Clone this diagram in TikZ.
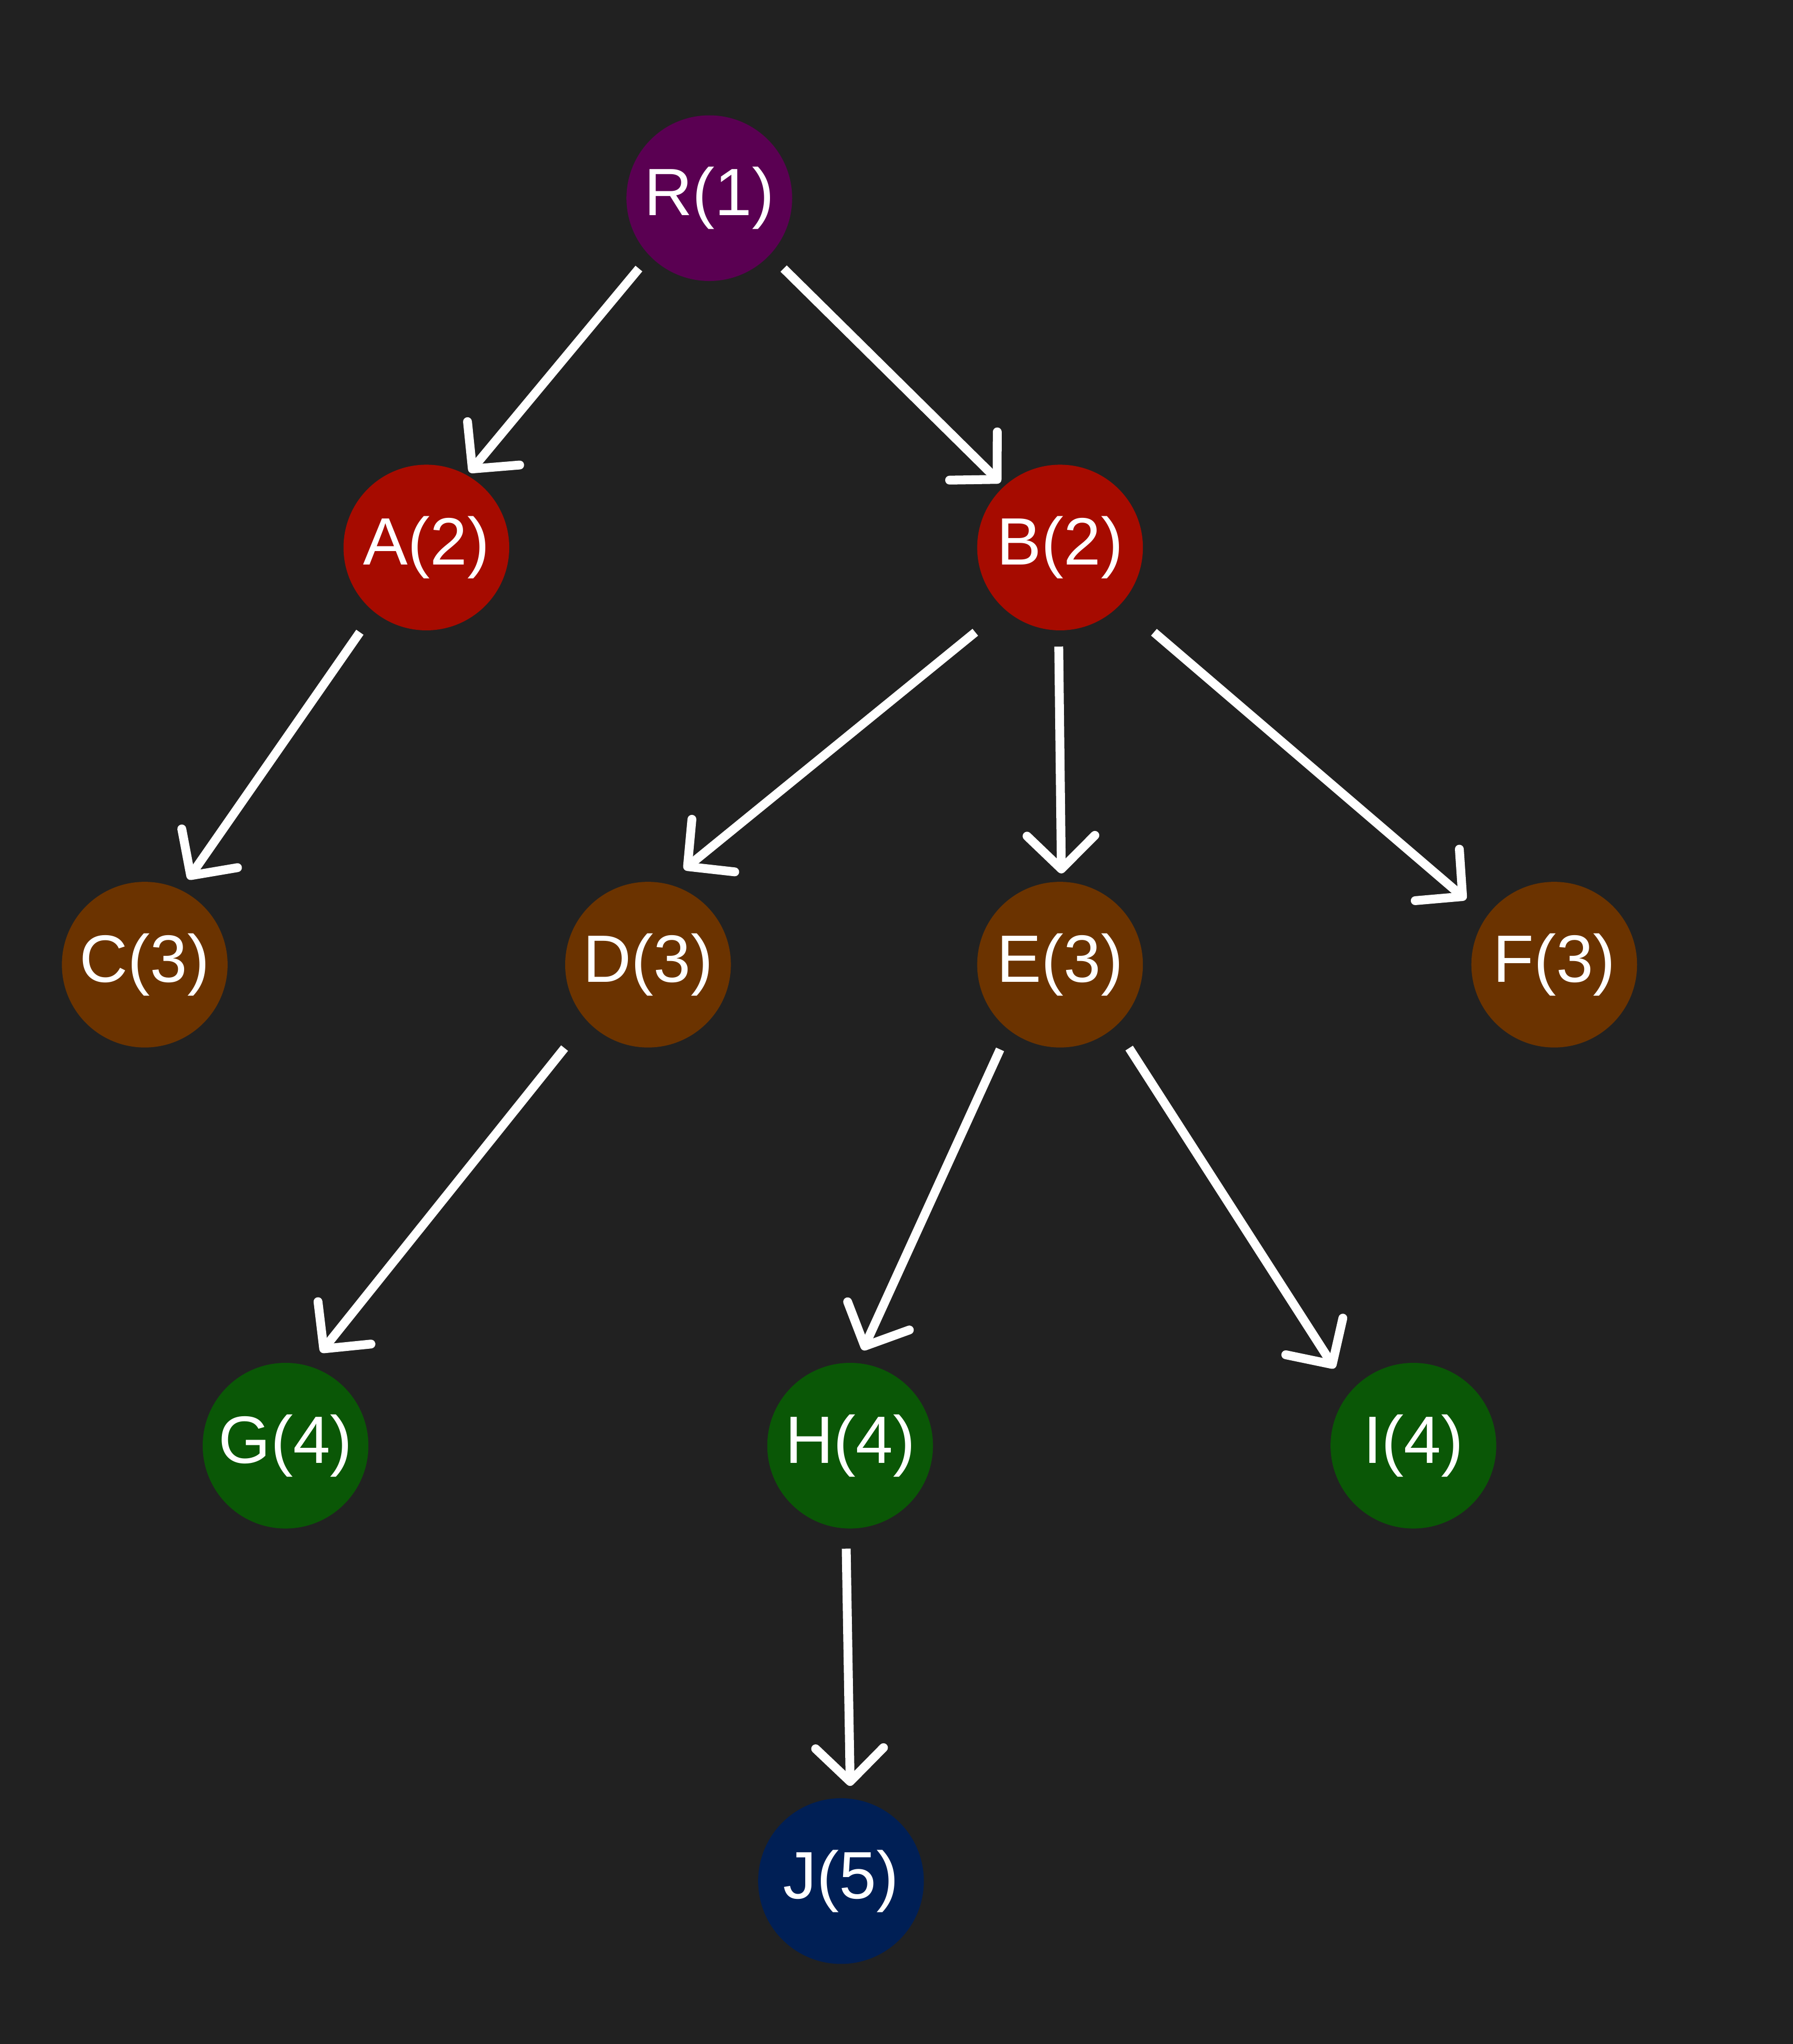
\documentclass[tikz,border=0pt]{standalone}
\usepackage{fontspec}
\setmainfont{Liberation Sans}
\usetikzlibrary{arrows.meta,calc}
\definecolor{bg}{HTML}{212121}
\definecolor{cR}{HTML}{5A0052}
\definecolor{cL2}{HTML}{A60B00}
\definecolor{cL3}{HTML}{6B3300}
\definecolor{cL4}{HTML}{0A5706}
\definecolor{cL5}{HTML}{001F55}
\tikzset{
  tnode/.style={circle, minimum size=1.27cm, inner sep=0pt, outer sep=0pt,
    text=white, font=\fontsize{14.6pt}{16pt}\selectfont},
  edge/.style={draw=white, line width=1.93pt,
    -{Straight Barb[length=0.255cm, width=0.52cm, round]}, shorten >=-0.03cm}
}
\begin{document}
\begin{tikzpicture}[x=0.01cm, y=-0.01cm]
\fill[bg] (0,0) rectangle (1375,1568);
\useasboundingbox (0,0) rectangle (1375,1568);
\node[tnode, fill=cR]  (R) at (544,152)  {R(1)};
\node[tnode, fill=cL2] (A) at (327,420)  {A(2)};
\node[tnode, fill=cL2] (B) at (813,420)  {B(2)};
\node[tnode, fill=cL3] (C) at (111,740)  {C(3)};
\node[tnode, fill=cL3] (D) at (497,740)  {D(3)};
\node[tnode, fill=cL3] (E) at (813,740)  {E(3)};
\node[tnode, fill=cL3] (F) at (1192,740) {F(3)};
\node[tnode, fill=cL4] (G) at (219,1109) {G(4)};
\node[tnode, fill=cL4] (H) at (652,1109) {H(4)};
\node[tnode, fill=cL4] (I) at (1084,1109) {I(4)};
\node[tnode, fill=cL5] (J) at (645,1443) {J(5)};
\draw[edge] ($(R)+(-54,54)$) -- ($(A)+(35,-60)$);
\draw[edge] ($(R)+(57,54)$)  -- ($(B)+(-48,-52)$);
\draw[edge] ($(A)+(-51,65)$) -- ($(C)+(35,-68)$);
\draw[edge] ($(B)+(-65,65)$) -- ($(D)+(30,-75)$);
\draw[edge] ($(B)+(-1,76)$)  -- ($(E)+(1,-73)$);
\draw[edge] ($(B)+(72,65)$)  -- ($(F)+(-70,-52)$);
\draw[edge] ($(D)+(-64,64)$) -- ($(G)+(29,-74)$);
\draw[edge] ($(E)+(-46,65)$) -- ($(H)+(11,-76)$);
\draw[edge] ($(E)+(53,64)$)  -- ($(I)+(-62,-62)$);
\draw[edge] ($(H)+(-3,79)$)  -- ($(J)+(7,-76)$);
\end{tikzpicture}
\end{document}
